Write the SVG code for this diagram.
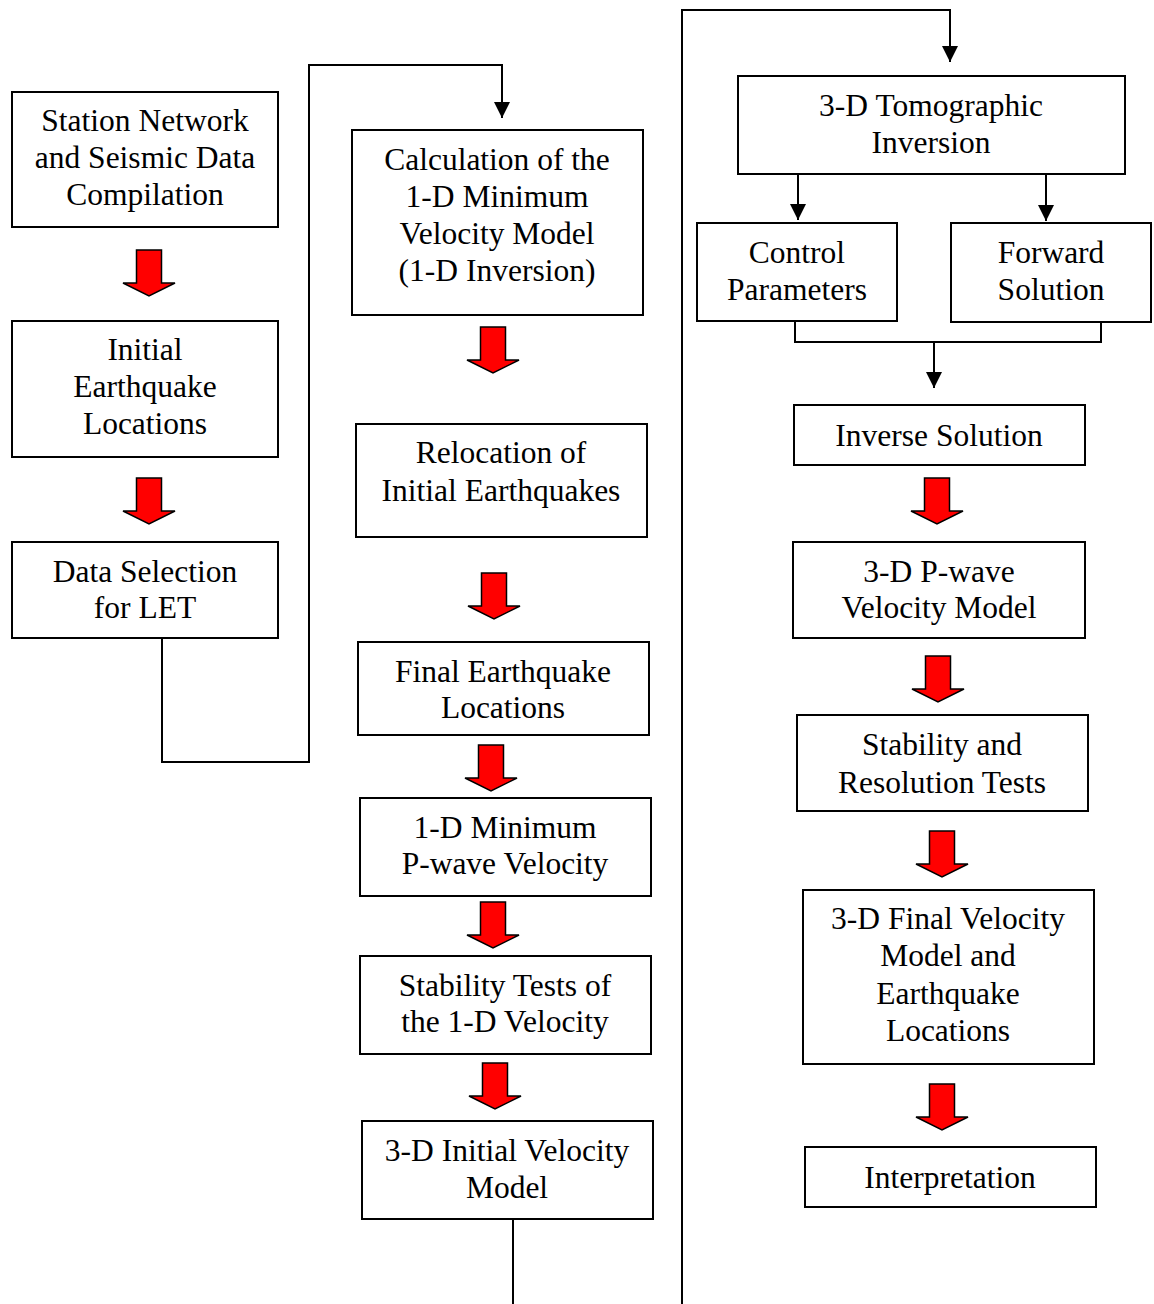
<svg xmlns="http://www.w3.org/2000/svg" width="1154" height="1304" viewBox="0 0 1154 1304">
<style>
.box{fill:#fff;stroke:#000;stroke-width:2}
.t{font-family:"Liberation Serif","Times New Roman",serif;font-size:31.5px;fill:#000;text-anchor:middle}
.c{fill:none;stroke:#000;stroke-width:2}
.ra{fill:#ff0000;stroke:#000;stroke-width:1.5;stroke-linejoin:miter}
</style>
<defs>
<marker id="ah" viewBox="0 0 16 16" refX="16" refY="8" markerWidth="16" markerHeight="16" markerUnits="userSpaceOnUse" orient="auto">
<path d="M0,0 L16,8 L0,16 Z" fill="#000"/>
</marker>
<path id="redArrow" class="ra" d="M-12.5,0 H12.5 V33 H26 L0,46 L-26,33 H-12.5 Z"/>
</defs>
<rect width="1154" height="1304" fill="#fff"/>

<g id="connectors">
<path class="c" d="M162,638 V762 H309 V65 H502 V118" marker-end="url(#ah)"/>
<path class="c" d="M513,1219 V1304"/>
<path class="c" d="M682,1304 V10 H950 V62" marker-end="url(#ah)"/>
<path class="c" d="M798,174 V220" marker-end="url(#ah)"/>
<path class="c" d="M1046,174 V221" marker-end="url(#ah)"/>
<path class="c" d="M795,321 V342 H1101 V322"/>
<path class="c" d="M934,342 V388" marker-end="url(#ah)"/>
<use href="#redArrow" x="149" y="250"/>
<use href="#redArrow" x="149" y="478"/>
<use href="#redArrow" x="493" y="327"/>
<use href="#redArrow" x="494" y="573"/>
<use href="#redArrow" x="491" y="745"/>
<use href="#redArrow" x="493" y="902"/>
<use href="#redArrow" x="495" y="1063"/>
<use href="#redArrow" x="937" y="478"/>
<use href="#redArrow" x="938" y="656"/>
<use href="#redArrow" x="942" y="831"/>
<use href="#redArrow" x="942" y="1084"/>
</g>

<g id="n-station">
<rect class="box" x="12" y="92" width="266" height="135"/>
<text class="t" x="145" y="131">Station Network</text>
<text class="t" x="145" y="168">and Seismic Data</text>
<text class="t" x="145" y="205">Compilation</text>
</g>
<g id="n-initial">
<rect class="box" x="12" y="321" width="266" height="136"/>
<text class="t" x="145" y="360">Initial</text>
<text class="t" x="145" y="397">Earthquake</text>
<text class="t" x="145" y="434">Locations</text>
</g>
<g id="n-dataselection">
<rect class="box" x="12" y="542" width="266" height="96"/>
<text class="t" x="145" y="582">Data Selection</text>
<text class="t" x="145" y="618">for LET</text>
</g>

<g id="n-calc">
<rect class="box" x="352" y="130" width="291" height="185"/>
<text class="t" x="497" y="170">Calculation of the</text>
<text class="t" x="497" y="207">1-D Minimum</text>
<text class="t" x="497" y="244">Velocity Model</text>
<text class="t" x="497" y="281">(1-D Inversion)</text>
</g>
<g id="n-relocation">
<rect class="box" x="356" y="424" width="291" height="113"/>
<text class="t" x="501" y="463">Relocation of</text>
<text class="t" x="501" y="501">Initial Earthquakes</text>
</g>
<g id="n-final">
<rect class="box" x="358" y="642" width="291" height="93"/>
<text class="t" x="503" y="682">Final Earthquake</text>
<text class="t" x="503" y="718">Locations</text>
</g>
<g id="n-1dmin">
<rect class="box" x="360" y="798" width="291" height="98"/>
<text class="t" x="505" y="838">1-D Minimum</text>
<text class="t" x="505" y="874">P-wave Velocity</text>
</g>
<g id="n-stab1d">
<rect class="box" x="360" y="956" width="291" height="98"/>
<text class="t" x="505" y="996">Stability Tests of</text>
<text class="t" x="505" y="1032">the 1-D Velocity</text>
</g>
<g id="n-3dinit">
<rect class="box" x="362" y="1121" width="291" height="98"/>
<text class="t" x="507" y="1161">3-D Initial Velocity</text>
<text class="t" x="507" y="1198">Model</text>
</g>

<g id="n-tomo">
<rect class="box" x="738" y="76" width="387" height="98"/>
<text class="t" x="931" y="116">3-D Tomographic</text>
<text class="t" x="931" y="153">Inversion</text>
</g>
<g id="n-control">
<rect class="box" x="697" y="223" width="200" height="98"/>
<text class="t" x="797" y="263">Control</text>
<text class="t" x="797" y="300">Parameters</text>
</g>
<g id="n-forward">
<rect class="box" x="951" y="223" width="200" height="99"/>
<text class="t" x="1051" y="263">Forward</text>
<text class="t" x="1051" y="300">Solution</text>
</g>
<g id="n-inverse">
<rect class="box" x="794" y="405" width="291" height="60"/>
<text class="t" x="939" y="446">Inverse Solution</text>
</g>
<g id="n-pwave">
<rect class="box" x="793" y="542" width="292" height="96"/>
<text class="t" x="939" y="582">3-D P-wave</text>
<text class="t" x="939" y="618">Velocity Model</text>
</g>
<g id="n-stabres">
<rect class="box" x="797" y="715" width="291" height="96"/>
<text class="t" x="942" y="755">Stability and</text>
<text class="t" x="942" y="793">Resolution Tests</text>
</g>
<g id="n-3dfinal">
<rect class="box" x="803" y="890" width="291" height="174"/>
<text class="t" x="948" y="929">3-D Final Velocity</text>
<text class="t" x="948" y="966">Model and</text>
<text class="t" x="948" y="1004">Earthquake</text>
<text class="t" x="948" y="1041">Locations</text>
</g>
<g id="n-interp">
<rect class="box" x="805" y="1147" width="291" height="60"/>
<text class="t" x="950" y="1188">Interpretation</text>
</g>
</svg>
